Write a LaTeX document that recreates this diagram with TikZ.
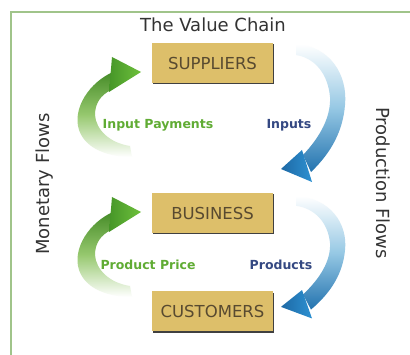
\documentclass[tikz,border=0pt]{standalone}
\usepackage{fontspec}
\setmainfont{DejaVu Sans}
\usetikzlibrary{shadows}
\definecolor{frameg}{RGB}{160,196,138}
\definecolor{boxfill}{RGB}{221,191,106}
\definecolor{boxtext}{RGB}{88,74,48}
\definecolor{txtgray}{RGB}{51,51,51}
\definecolor{lblgreen}{RGB}{96,172,52}
\definecolor{lblblue}{RGB}{52,72,130}
\definecolor{gdark}{RGB}{70,140,40}
\definecolor{gmid}{RGB}{150,200,110}
\definecolor{ghead1}{RGB}{110,192,60}
\definecolor{ghead2}{RGB}{70,150,40}
\definecolor{bdark}{RGB}{35,115,175}
\definecolor{bmid}{RGB}{150,200,228}
\definecolor{bhead1}{RGB}{45,145,210}
\definecolor{bhead2}{RGB}{30,105,165}
\begin{document}
\begin{tikzpicture}[x=1pt,y=-1pt,
  entity/.style={draw=none, fill=boxfill, minimum width=121pt, minimum height=40pt,
    inner sep=0pt, text=boxtext, font=\fontsize{16.5}{18}\selectfont,
    general shadow={shadow xshift=1.3pt, shadow yshift=-1.3pt, fill=black!75}},
  heading/.style={text=txtgray, font=\fontsize{18}{20}\selectfont, inner sep=0pt},
  flowlbl/.style={font=\bfseries\fontsize{12.5}{14}\selectfont, inner sep=0pt},
  greenribbon/.style={top color=gdark, bottom color=white, middle color=gmid},
  greenhead/.style={left color=ghead2, right color=ghead1},
  blueribbon/.style={top color=white, bottom color=bdark, middle color=bmid},
  bluehead/.style={left color=bhead2, right color=bhead1}]
\useasboundingbox (0,0) rectangle (410,355);
\fill[white] (0,0) rectangle (410,355);
\draw[frameg, line width=1.5pt] (11,355) -- (11,12) -- (410,12);

% green arrows (monetary flows)
\foreach \dy in {0,140}{
\begin{scope}[shift={(0,\dy)}]
\path[greenribbon]
 (113,72) .. controls (90,82) and (72,108) .. (79,130) .. controls (86,150) and (110,157) .. (132,157)
 -- (130,146) .. controls (110,143) and (96,130) .. (95,115) .. controls (95,103) and (101,95) .. (111,90) -- cycle;
\path[greenhead] (112,57) -- (141,72) -- (109,92) -- cycle;
\end{scope}}

% blue arrows (production flows)
\begin{scope}
\path[blueribbon]
 (296,44) .. controls (330,46) and (348,75) .. (345,105) .. controls (343,130) and (332,152) .. (311,172)
 -- (303,155) .. controls (320,137) and (331,117) .. (330,97) .. controls (328,74) and (315,58) .. (296,55) -- cycle;
\path[bluehead] (281,169) -- (302,150) -- (312,182) -- cycle;
\end{scope}
\begin{scope}[shift={(0,157)}, yscale=0.887]
\path[blueribbon]
 (296,44) .. controls (330,46) and (348,75) .. (345,105) .. controls (343,130) and (332,152) .. (311,172)
 -- (303,155) .. controls (320,137) and (331,117) .. (330,97) .. controls (328,74) and (315,58) .. (296,55) -- cycle;
\path[bluehead] (281,169) -- (302,150) -- (312,182) -- cycle;
\end{scope}

\node[heading] (title) at (213,25) {The Value Chain};
\node[entity] (sup) at (212.5,63) {SUPPLIERS};
\node[entity] (bus) at (212.5,213) {BUSINESS};
\node[entity] (cus) at (212.5,311.5) {CUSTOMERS};

\node[flowlbl, text=lblgreen] (ip) at (158,125) {Input Payments};
\node[flowlbl, text=lblblue] (in) at (289,125) {Inputs};
\node[flowlbl, text=lblgreen] (pp) at (148,265) {Product Price};
\node[flowlbl, text=lblblue] (pr) at (281,265) {Products};

\node[heading, rotate=90] (mon) at (45,184) {Monetary Flows};
\node[heading, rotate=-90] (prod) at (383,183) {Production Flows};
\end{tikzpicture}
\end{document}
